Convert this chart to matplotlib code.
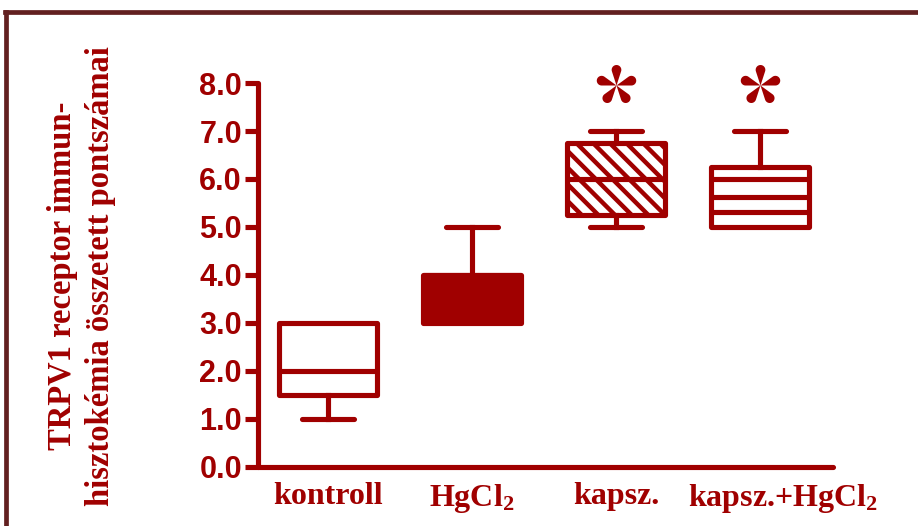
import matplotlib
matplotlib.use("Agg")
import numpy as np
import matplotlib.pyplot as plt
from matplotlib.lines import Line2D
from matplotlib.path import Path
from matplotlib.transforms import ScaledTranslation

# Group names and box statistics (TRPV1 immunohistochemistry scores)
groups = ["kontroll", r"HgCl$_\mathbf{2}$", "kapsz.", r"kapsz.+HgCl$_\mathbf{2}$"]
whislo = [1.0, 3.0, 5.0, 5.0]
q1 = [1.5, 3.0, 5.25, 5.0]
med = [2.0, 4.0, 6.0, 6.0]
q3 = [3.0, 4.0, 6.75, 6.25]
whishi = [3.0, 5.0, 7.0, 7.0]
significant = [False, False, True, True]
yticks = [0, 1, 2, 3, 4, 5, 6, 7, 8]

RED = "#a00000"
BORDER = "#622020"

plt.rcParams["mathtext.fontset"] = "custom"
plt.rcParams["mathtext.rm"] = "Liberation Serif:bold"
plt.rcParams["mathtext.it"] = "Liberation Serif:bold"
plt.rcParams["mathtext.bf"] = "Liberation Serif:bold"
plt.rcParams["hatch.linewidth"] = 3.2
plt.rcParams["hatch.color"] = RED


def teardrop_asterisk(n=5, d=15.5, r=4.8):
    """Five teardrop petals radiating from the centre, as a marker path."""
    verts, codes = [], []
    half = np.arcsin(r / d)
    for k in range(n):
        ang = np.pi / 2 + k * 2 * np.pi / n
        cx, cy = d * np.cos(ang), d * np.sin(ang)
        t = np.linspace(ang - np.pi / 2 - half, ang + np.pi / 2 + half, 30)
        pts = [(0.0, 0.0)] + [(cx + r * np.cos(a), cy + r * np.sin(a)) for a in t]
        verts += pts + [(0.0, 0.0)]
        codes += [Path.MOVETO] + [Path.LINETO] * (len(pts) - 1) + [Path.CLOSEPOLY]
    return Path(np.array(verts), codes)


fig = plt.figure(figsize=(9.18, 5.26), dpi=100)
ax = fig.add_axes([0.2810, 0.1122, 0.6264, 0.7300])

lw = 3.7
stats = []
for i in range(len(groups)):
    stats.append(dict(med=med[i], q1=q1[i], q3=q3[i], whislo=whislo[i],
                      whishi=whishi[i], fliers=[], label=groups[i]))

pos = list(range(1, len(groups) + 1))
bp = ax.bxp(stats, positions=pos, widths=0.68, patch_artist=True,
            showfliers=False, capwidths=0.36,
            boxprops=dict(linewidth=lw, edgecolor=RED, facecolor="white",
                          joinstyle="round"),
            medianprops=dict(linewidth=lw, color=RED, solid_capstyle="butt"),
            whiskerprops=dict(linewidth=lw, color=RED),
            capprops=dict(linewidth=lw, color=RED, solid_capstyle="round"))

# hide whiskers / caps of zero length
for i in range(len(groups)):
    if whislo[i] == q1[i]:
        bp["whiskers"][2 * i].set_visible(False)
        bp["caps"][2 * i].set_visible(False)
    if whishi[i] == q3[i]:
        bp["whiskers"][2 * i + 1].set_visible(False)
        bp["caps"][2 * i + 1].set_visible(False)

# box fills
bp["boxes"][1].set_facecolor(RED)
bp["boxes"][2].set_hatch("\\\\")
bp["boxes"][2].set_edgecolor(RED)

# horizontal stripes inside the last box
i = 3
ax.hlines([q1[i] + k * (q3[i] - q1[i]) / 4 for k in (1, 2)],
          pos[i] - 0.34, pos[i] + 0.34, colors=RED, linewidth=lw, zorder=3)

# significance marks
star = teardrop_asterisk()
sig_x = [p for p, s in zip(pos, significant) if s]
ax.plot(sig_x, [7.96] * len(sig_x), linestyle="none", marker=star,
        markersize=29.5, color=RED, markeredgewidth=0, clip_on=False)

ax.set_xlim(0.514, 4.507)
ax.set_ylim(0, 8)
ax.set_yticks(yticks)
ax.set_yticklabels([f"{v:.1f}" for v in yticks], fontsize=22,
                   fontfamily="Liberation Sans", fontweight="bold", color=RED)
ax.set_xticks(pos)
ax.set_xticklabels(groups, fontsize=23, fontfamily="Liberation Serif",
                   fontweight="bold", color=RED)
ax.tick_params(axis="y", length=9.5, width=lw, color=RED, pad=2)
ax.tick_params(axis="x", length=0, pad=11)
# last label sits a little to the right of its box
lbl = ax.get_xticklabels()[3]
lbl.set_transform(lbl.get_transform() + ScaledTranslation(0.23, 0, fig.dpi_scale_trans))
for side in ("top", "right"):
    ax.spines[side].set_visible(False)
for side in ("left", "bottom"):
    ax.spines[side].set_color(RED)
    ax.spines[side].set_linewidth(lw)
    ax.spines[side].set_capstyle("round")
ax.patch.set_visible(False)

fig.text(0.0885, 0.4753, "TRPV1 receptor immun-\nhisztokémia összetett pontszámai",
         rotation=90, ha="center", va="center", fontsize=23.5,
         fontfamily="Liberation Serif", fontweight="bold", color=RED,
         linespacing=1.3, multialignment="center")

# frame lines along the top and left edges
fig.add_artist(Line2D([5 / 918, 1.0], [1 - 12 / 526, 1 - 12 / 526],
                      transform=fig.transFigure, color=BORDER, linewidth=3.4,
                      solid_capstyle="projecting"))
fig.add_artist(Line2D([5.5 / 918, 5.5 / 918], [0.0, 1 - 12 / 526],
                      transform=fig.transFigure, color=BORDER, linewidth=3.4,
                      solid_capstyle="projecting"))

fig.savefig("out.png", dpi=100)
